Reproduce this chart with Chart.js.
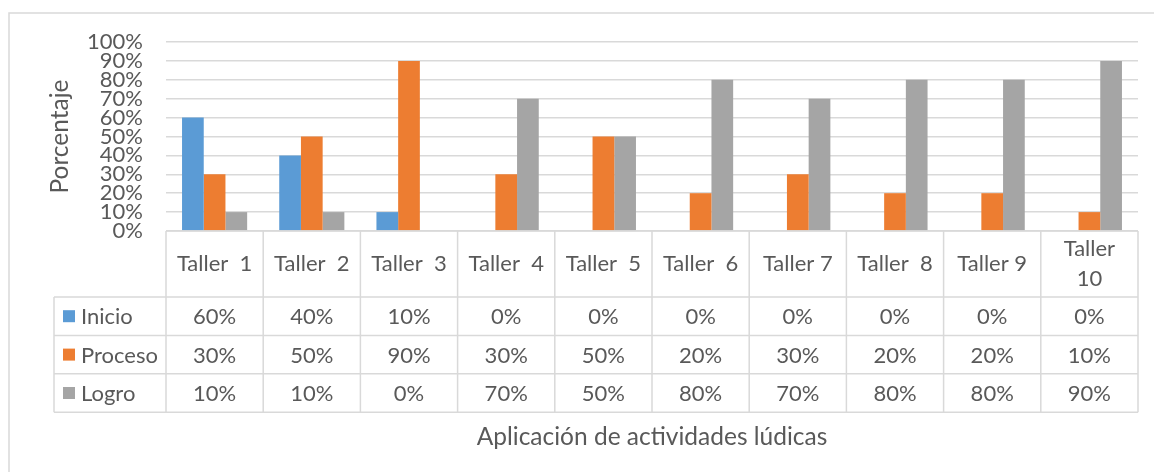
<!DOCTYPE html>
<html>
<head>
<meta charset="utf-8">
<script src="https://cdn.jsdelivr.net/npm/chart.js@4.4.0/dist/chart.umd.min.js"></script>
<style>
   html, body { margin: 0; padding: 0; background: #fff; }
   canvas { display: block; }
</style>
</head>
<body>
<canvas id="tallerChart" width="1154" height="472"></canvas>
<script>
/* -----------------------------------------------------------------------
   datos
   ------------------------------------------------------------------------*/
const categories = ['Taller  1', 'Taller  2', 'Taller  3', 'Taller  4', 'Taller  5',
   'Taller  6', 'Taller 7', 'Taller  8', 'Taller 9', ['Taller', '10']];
const seriesNames = ['Inicio', 'Proceso', 'Logro'];
const inicio = [60, 40, 10, 0, 0, 0, 0, 0, 0, 0];
const proceso = [30, 50, 90, 30, 50, 20, 30, 20, 20, 10];
const logro = [10, 10, 0, 70, 50, 80, 70, 80, 80, 90];
const yTickMin = 0;
const yTickMax = 100;
const yTickStep = 10;
const xTitle = 'Aplicación de actividades lúdicas';
const yTitle = 'Porcentaje';

const COLORS = ['#5B9BD5', '#ED7D31', '#A5A5A5'];
const TEXT = '#595959';
const LINE = '#D9D9D9';
const FONT = 'Lato';

/* -----------------------------------------------------------------------
   tabla de datos bajo el grafico (estilo Excel)
   ------------------------------------------------------------------------*/
const dataTablePlugin = {
   id: 'dataTable',
   beforeDraw: function(chart) {
      const ctx = chart.ctx;
      ctx.save();
      ctx.fillStyle = '#fff';
      ctx.fillRect(0, 0, chart.width, chart.height);
      // marco exterior
      ctx.strokeStyle = LINE;
      ctx.lineWidth = 1.5;
      ctx.beginPath();
      ctx.moveTo(9, chart.height);
      ctx.lineTo(9, 13);
      ctx.lineTo(chart.width, 13);
      ctx.stroke();
      ctx.restore();
   },
   afterDraw: function(chart) {
      const ctx = chart.ctx;
      const area = chart.chartArea;
      const xs = chart.scales.x;
      const n = categories.length;
      const cellW = (area.right - area.left) / n;
      const top = area.bottom;
      const headH = 66;
      const rowH = 38.4;
      const legendLeft = 54;
      const rowsTop = top + headH;
      const bottom = rowsTop + rowH * seriesNames.length;

      ctx.save();
      ctx.strokeStyle = LINE;
      ctx.lineWidth = 1.5;
      ctx.beginPath();
      // lineas horizontales
      ctx.moveTo(area.left, top);
      ctx.lineTo(area.right, top);
      for (let r = 0; r <= seriesNames.length; r++) {
         const y = rowsTop + rowH * r;
         ctx.moveTo(legendLeft, y);
         ctx.lineTo(area.right, y);
      }
      // lineas verticales
      ctx.moveTo(legendLeft, rowsTop);
      ctx.lineTo(legendLeft, bottom);
      for (let i = 0; i <= n; i++) {
         const x = area.left + cellW * i;
         ctx.moveTo(x, top);
         ctx.lineTo(x, bottom);
      }
      ctx.stroke();

      ctx.fillStyle = TEXT;
      ctx.font = '22px ' + FONT;
      ctx.textAlign = 'center';
      ctx.textBaseline = 'middle';
      // encabezados
      categories.forEach(function(cat, i) {
         const cx = xs.getPixelForValue(i);
         const lines = Array.isArray(cat) ? cat : [cat];
         const lh = 30;
         const y0 = top + headH / 2 - (lines.length - 1) * lh / 2;
         lines.forEach(function(t, k) {
            ctx.fillText(t, cx, y0 + k * lh);
         });
      });
      // filas
      chart.data.datasets.forEach(function(ds, r) {
         const cy = rowsTop + rowH * r + rowH / 2;
         ctx.fillStyle = ds.backgroundColor;
         ctx.fillRect(63, cy - 6, 12, 12);
         ctx.fillStyle = TEXT;
         ctx.textAlign = 'left';
         ctx.fillText(ds.label, 81, cy + 1);
         ctx.textAlign = 'center';
         ds.data.forEach(function(v, i) {
            ctx.fillText(v + '%', xs.getPixelForValue(i), cy + 1);
         });
      });
      // titulo eje x
      ctx.font = '24.5px ' + FONT;
      ctx.fillText(xTitle, (area.left + area.right) / 2, 437);
      ctx.restore();
   }
};

/* -----------------------------------------------------------------------
   grafico
   ------------------------------------------------------------------------*/
const data = {
   labels: categories,
   datasets: [inicio, proceso, logro].map(function(vals, idx) {
      return {
         label: seriesNames[idx],
         data: vals,
         backgroundColor: COLORS[idx],
         borderWidth: 0,
         categoryPercentage: 0.67,
         barPercentage: 1.0,
      };
   })
};

const config = {
   type: 'bar',
   data: data,
   options: {
      responsive: false,
      animation: false,
      layout: {
         padding: { top: 42, right: 16, bottom: 241, left: 0 }
      },
      scales: {
         x: {
            display: false,
         },
         y: {
            min: yTickMin,
            max: yTickMax,
            afterFit: function(scale) { scale.width = 166; },
            border: { display: false },
            grid: { color: LINE, lineWidth: 1.5, drawTicks: false },
            ticks: {
               stepSize: yTickStep,
               autoSkip: false,
               padding: 23,
               color: TEXT,
               font: { family: FONT, size: 22, lineHeight: 1 },
               callback: function(v) { return v + '%'; }
            },
            title: {
               display: true,
               text: yTitle,
               color: TEXT,
               font: { family: FONT, size: 24.5 },
               padding: { top: 45, bottom: 0 }
            }
         }
      },
      plugins: {
         legend: { display: false },
         tooltip: { enabled: false },
      }
   },
   plugins: [dataTablePlugin]
};

new Chart(document.getElementById('tallerChart'), config);
</script>
</body>
</html>
